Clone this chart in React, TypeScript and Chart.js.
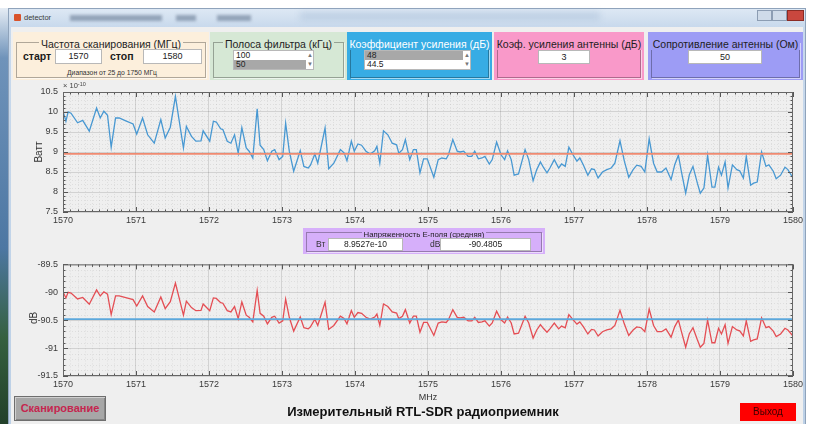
import React, { useEffect, useRef } from 'react';
import { Chart, registerables } from 'chart.js';

Chart.register(...registerables);

const FONT = '"Liberation Sans", Arial, Helvetica, sans-serif';

// Scan frequencies, MHz
const freqMHz = [
  1570.00, 1570.04, 1570.07, 1570.11, 1570.20, 1570.27, 1570.36, 1570.46, 1570.51, 1570.56,
  1570.61, 1570.66, 1570.72, 1570.77, 1570.86, 1570.96, 1571.01, 1571.09, 1571.16, 1571.25,
  1571.34, 1571.40, 1571.47, 1571.54, 1571.65, 1571.69, 1571.76, 1571.82, 1571.89, 1571.92,
  1572.01, 1572.06, 1572.10, 1572.16, 1572.19, 1572.25, 1572.30, 1572.35, 1572.40, 1572.45,
  1572.51, 1572.55, 1572.60, 1572.66, 1572.70, 1572.75, 1572.80, 1572.86, 1572.90, 1572.96,
  1573.01, 1573.05, 1573.10, 1573.16, 1573.25, 1573.30, 1573.36, 1573.39, 1573.45, 1573.49,
  1573.59, 1573.64, 1573.71, 1573.80, 1573.85, 1573.89, 1573.95, 1573.99, 1574.04, 1574.09,
  1574.15, 1574.21, 1574.27, 1574.30, 1574.34, 1574.39, 1574.45, 1574.51, 1574.57, 1574.60,
  1574.65, 1574.69, 1574.75, 1574.80, 1574.84, 1574.89, 1574.94, 1574.99, 1575.08, 1575.14,
  1575.19, 1575.25, 1575.28, 1575.34, 1575.40, 1575.44, 1575.49, 1575.55, 1575.60, 1575.64,
  1575.69, 1575.74, 1575.78, 1575.84, 1575.88, 1575.94, 1576.00, 1576.05, 1576.09, 1576.14,
  1576.18, 1576.24, 1576.33, 1576.38, 1576.44, 1576.49, 1576.54, 1576.58, 1576.63, 1576.67,
  1576.73, 1576.79, 1576.83, 1576.88, 1576.93, 1576.98, 1577.04, 1577.08, 1577.13, 1577.19,
  1577.24, 1577.28, 1577.33, 1577.39, 1577.45, 1577.51, 1577.56, 1577.63, 1577.69, 1577.75,
  1577.81, 1577.86, 1577.92, 1577.97, 1578.03, 1578.09, 1578.14, 1578.20, 1578.26, 1578.33,
  1578.38, 1578.43, 1578.47, 1578.53, 1578.58, 1578.63, 1578.69, 1578.73, 1578.78, 1578.83,
  1578.89, 1578.93, 1578.98, 1579.02, 1579.07, 1579.11, 1579.17, 1579.23, 1579.27, 1579.32,
  1579.36, 1579.42, 1579.46, 1579.51, 1579.57, 1579.63, 1579.67, 1579.73, 1579.77, 1579.83,
  1579.89, 1579.93, 1580.00,
];

// Power, in units of 1e-10 W
const powerE10 = [
  10.02, 9.77, 10.00, 9.97, 9.73, 9.79, 9.52, 10.10, 9.85, 10.02,
  9.92, 9.12, 9.85, 9.85, 9.78, 9.70, 9.45, 9.85, 9.43, 9.22,
  9.81, 9.35, 9.62, 10.39, 9.10, 9.64, 9.39, 9.27, 9.28, 9.53,
  9.27, 9.77, 9.75, 9.58, 9.56, 9.27, 9.22, 9.43, 8.97, 9.61,
  9.10, 9.02, 8.85, 10.08, 9.17, 9.06, 8.78, 9.02, 9.06, 8.81,
  8.89, 9.72, 9.02, 8.52, 9.03, 8.64, 8.60, 8.67, 8.95, 8.72,
  9.60, 8.58, 8.72, 9.06, 8.98, 8.78, 9.27, 9.02, 9.20, 9.17,
  9.02, 8.95, 9.03, 9.14, 8.72, 9.53, 9.43, 9.22, 9.18, 8.97,
  9.06, 9.31, 8.81, 9.06, 9.06, 8.48, 8.83, 8.83, 8.37, 8.81,
  8.85, 8.83, 8.93, 9.31, 9.02, 9.00, 9.02, 8.89, 8.89, 9.02,
  8.83, 8.85, 8.89, 8.70, 8.81, 9.25, 8.93, 8.81, 9.03, 8.81,
  8.42, 8.45, 9.06, 8.81, 8.28, 8.56, 8.75, 8.62, 8.48, 8.60,
  8.81, 8.60, 8.70, 8.64, 9.12, 8.95, 8.77, 8.85, 8.67, 8.42,
  8.58, 8.56, 8.35, 8.50, 8.56, 8.60, 8.72, 9.28, 8.77, 8.37,
  8.56, 8.67, 8.64, 8.50, 9.33, 8.72, 8.50, 8.50, 8.60, 8.31,
  8.68, 8.92, 8.52, 7.97, 8.43, 8.64, 8.22, 7.97, 8.10, 8.92,
  8.12, 8.12, 8.62, 8.42, 8.75, 8.10, 8.68, 8.56, 8.53, 8.35,
  8.89, 8.17, 8.22, 8.25, 9.00, 8.64, 8.68, 8.52, 8.33, 8.42,
  8.62, 8.56, 8.35,
];

// Same measurement expressed in dB (10·log10 of the power in W)
const powerDb = powerE10.map((v) => 10 * Math.log10(v * 1e-10));

const meanPowerE10 = 8.9527;
const meanPowerText = '8.9527e-10';
const meanDb = -90.4805;
const meanDbText = '-90.4805';

const xTickValues = [1570, 1571, 1572, 1573, 1574, 1575, 1576, 1577, 1578, 1579, 1580];
const powerTickValues = [7.5, 8, 8.5, 9, 9.5, 10, 10.5];
const dbTickValues = [-91.5, -91, -90.5, -90, -89.5];

function minorValues(min: number, max: number, step: number, major: number) {
  const out: number[] = [];
  const n = Math.round((max - min) / step);
  for (let i = 1; i < n; i++) {
    const v = min + i * step;
    const r = v / major;
    if (Math.abs(r - Math.round(r)) < 1e-6) continue;
    out.push(v);
  }
  return out;
}

const matlabAxesPlugin = {
  id: 'matlabAxes',
  beforeDatasetsDraw(chart: any, _args: any, o: any) {
    const { ctx, chartArea: a, scales } = chart;
    const x = scales.x;
    const y = scales.y;
    ctx.save();
    ctx.beginPath();
    ctx.rect(a.left, a.top, a.right - a.left, a.bottom - a.top);
    ctx.clip();
    ctx.strokeStyle = 'rgba(0,0,0,0.07)';
    ctx.lineWidth = 1;
    ctx.setLineDash([1, 2]);
    minorValues(x.min, x.max, o.xMinor, o.xMajor).forEach((v) => {
      const p = Math.round(x.getPixelForValue(v)) + 0.5;
      ctx.beginPath();
      ctx.moveTo(p, a.top);
      ctx.lineTo(p, a.bottom);
      ctx.stroke();
    });
    minorValues(y.min, y.max, o.yMinor, o.yMajor).forEach((v) => {
      const p = Math.round(y.getPixelForValue(v)) + 0.5;
      ctx.beginPath();
      ctx.moveTo(a.left, p);
      ctx.lineTo(a.right, p);
      ctx.stroke();
    });
    ctx.restore();
  },
  afterDatasetsDraw(chart: any, _args: any, o: any) {
    const { ctx, chartArea: a, scales } = chart;
    const x = scales.x;
    const y = scales.y;
    ctx.save();
    ctx.strokeStyle = '#555';
    ctx.lineWidth = 1;
    const tick = (x1: number, y1: number, x2: number, y2: number) => {
      ctx.beginPath();
      ctx.moveTo(x1, y1);
      ctx.lineTo(x2, y2);
      ctx.stroke();
    };
    xTickValues.forEach((v) => {
      const p = Math.round(x.getPixelForValue(v)) + 0.5;
      tick(p, a.bottom, p, a.bottom - 5);
      tick(p, a.top, p, a.top + 5);
    });
    minorValues(x.min, x.max, o.xMinor, o.xMajor).forEach((v) => {
      const p = Math.round(x.getPixelForValue(v)) + 0.5;
      tick(p, a.bottom, p, a.bottom - 2.5);
      tick(p, a.top, p, a.top + 2.5);
    });
    (o.yTicks as number[]).forEach((v) => {
      const p = Math.round(y.getPixelForValue(v)) + 0.5;
      tick(a.left, p, a.left + 5, p);
      tick(a.right, p, a.right - 5, p);
    });
    minorValues(y.min, y.max, o.yMinor, o.yMajor).forEach((v) => {
      const p = Math.round(y.getPixelForValue(v)) + 0.5;
      tick(a.left, p, a.left + 2.5, p);
      tick(a.right, p, a.right - 2.5, p);
    });
    ctx.strokeStyle = '#666';
    ctx.strokeRect(a.left + 0.5, a.top + 0.5, a.right - a.left - 1, a.bottom - a.top - 1);
    ctx.restore();
  },
};

function buildConfig(isTop: boolean): any {
  const values = isTop ? powerE10 : powerDb;
  const mean = isTop ? meanPowerE10 : meanDb;
  const yTicks = isTop ? powerTickValues : dbTickValues;
  const pts = freqMHz.map((f, i) => ({ x: f, y: values[i] }));
  const tickFont = { family: FONT, size: 9 };
  return {
    type: 'line',
    data: {
      datasets: [
        {
          data: pts,
          borderColor: isTop ? 'rgb(72,152,210)' : 'rgb(228,78,84)',
          borderWidth: 1.3,
          pointRadius: 0,
          tension: 0,
          fill: false,
          order: 2,
        },
        {
          data: [
            { x: xTickValues[0], y: mean },
            { x: xTickValues[xTickValues.length - 1], y: mean },
          ],
          borderColor: isTop ? 'rgb(240,138,112)' : 'rgb(92,168,220)',
          borderWidth: 1.8,
          pointRadius: 0,
          fill: false,
          order: 1,
        },
      ],
    },
    options: {
      animation: false,
      responsive: false,
      maintainAspectRatio: false,
      events: [],
      layout: { padding: { top: isTop ? 12 : 6, right: 12, left: 0, bottom: 0 } },
      plugins: {
        legend: { display: false },
        tooltip: { enabled: false },
        matlabAxes: { xMinor: 0.1, xMajor: 1, yMinor: 0.1, yMajor: 0.5, yTicks },
      },
      scales: {
        x: {
          type: 'linear',
          min: xTickValues[0],
          max: xTickValues[xTickValues.length - 1],
          afterBuildTicks: (s: any) => {
            s.ticks = xTickValues.map((v) => ({ value: v }));
          },
          afterFit: (s: any) => {
            s.height = 18;
          },
          ticks: {
            callback: (v: any) => String(v),
            padding: 3,
            maxRotation: 0,
            autoSkip: false,
            color: '#3a3a3a',
            font: tickFont,
          },
          grid: { color: 'rgba(0,0,0,0.12)', drawTicks: false, lineWidth: 1 },
          border: { display: false },
        },
        y: {
          type: 'linear',
          min: yTicks[0],
          max: yTicks[yTicks.length - 1],
          afterBuildTicks: (s: any) => {
            s.ticks = yTicks.map((v) => ({ value: v }));
          },
          afterFit: (s: any) => {
            s.width = 53;
          },
          ticks: {
            callback: (v: any) => String(v),
            padding: 5,
            autoSkip: false,
            color: '#3a3a3a',
            font: tickFont,
          },
          grid: { color: 'rgba(0,0,0,0.12)', drawTicks: false, lineWidth: 1 },
          border: { display: false },
        },
      },
    },
    plugins: [matlabAxesPlugin],
  };
}

const abs = (left: number, top: number, width?: number, height?: number): React.CSSProperties => ({
  position: 'absolute',
  left,
  top,
  width,
  height,
});

function Txt(p: {
  x: number;
  y: number;
  text: string;
  size: number;
  bold?: boolean;
  color?: string;
  center?: boolean;
}) {
  const lh = Math.round(p.size * 1.3);
  return (
    <div
      style={{
        position: 'absolute',
        left: p.center ? p.x - 200 : p.x,
        width: p.center ? 400 : undefined,
        top: p.y - lh / 2,
        lineHeight: `${lh}px`,
        fontSize: p.size,
        fontWeight: p.bold ? 'bold' : 'normal',
        color: p.color ?? '#1a1a1a',
        textAlign: p.center ? 'center' : 'left',
        whiteSpace: 'nowrap',
      }}
    >
      {p.text}
    </div>
  );
}

function EditBox(p: { x: number; y: number; w: number; h: number; text: string; size?: number }) {
  return (
    <div
      style={{
        ...abs(p.x, p.y, p.w, p.h),
        background: '#fff',
        border: '1px solid #b8b8b8',
        boxSizing: 'border-box',
        textAlign: 'center',
        lineHeight: `${p.h - 2}px`,
        fontSize: p.size ?? 9,
        color: '#222',
      }}
    >
      {p.text}
    </div>
  );
}

function ListBox(p: { x: number; y: number; w: number; items: string[]; selected: number }) {
  const rowH = 9;
  return (
    <div
      style={{
        ...abs(p.x, p.y, p.w, rowH * p.items.length + 2),
        background: '#fff',
        border: '1px solid #b8b8b8',
        boxSizing: 'border-box',
      }}
    >
      {p.items.map((it, i) => (
        <div
          key={i}
          style={{
            ...abs(0, i * rowH, p.w - 11, rowH),
            background: i === p.selected ? '#a8a8a8' : '#fff',
            fontSize: 8.5,
            lineHeight: `${rowH}px`,
            paddingLeft: 2,
            color: '#222',
          }}
        >
          {it}
        </div>
      ))}
      <div style={{ ...abs(p.w - 9, 0, 8, rowH), fontSize: 6, lineHeight: `${rowH}px`, color: '#777', textAlign: 'center' }}>▲</div>
      <div style={{ ...abs(p.w - 9, rowH, 8, rowH), fontSize: 6, lineHeight: `${rowH}px`, color: '#777', textAlign: 'center' }}>▼</div>
    </div>
  );
}

function Panel(p: {
  x: number;
  y: number;
  w: number;
  h: number;
  bg: string;
  title: string;
  titleColor?: string;
  titleSize?: number;
  titleY?: number;
  children?: React.ReactNode;
}) {
  const ty = p.titleY ?? 10;
  const size = p.titleSize ?? 10.5;
  const lh = Math.round(size * 1.25);
  return (
    <div style={{ ...abs(p.x, p.y, p.w, p.h), background: p.bg }}>
      <div
        style={{
          position: 'absolute',
          left: 3,
          right: 3,
          top: ty,
          bottom: 2,
          border: '1px solid rgba(0,0,0,0.3)',
          boxShadow: '1px 1px 0 rgba(255,255,255,0.55)',
        }}
      />
      <div
        style={{
          position: 'absolute',
          left: 0,
          right: 0,
          top: ty - lh / 2,
          textAlign: 'center',
          lineHeight: `${lh}px`,
          whiteSpace: 'nowrap',
        }}
      >
        <span style={{ background: p.bg, padding: '0 2px', fontSize: size, color: p.titleColor ?? '#1e1e1e' }}>
          {p.title}
        </span>
      </div>
      {p.children}
    </div>
  );
}

export default function App() {
  const topRef = useRef<HTMLCanvasElement>(null);
  const botRef = useRef<HTMLCanvasElement>(null);

  useEffect(() => {
    const c1 = new Chart(topRef.current as HTMLCanvasElement, buildConfig(true));
    const c2 = new Chart(botRef.current as HTMLCanvasElement, buildConfig(false));
    return () => {
      c1.destroy();
      c2.destroy();
    };
  }, []);

  return (
    <div
      style={{
        position: 'fixed',
        left: 0,
        top: 0,
        width: 813,
        height: 424,
        overflow: 'hidden',
        background: '#ffffff',
        fontFamily: FONT,
      }}
    >
      {/* desktop strip at the left */}
      <div
        style={{
          ...abs(0, 8, 9, 416),
          background: 'linear-gradient(180deg,#e6edf5 0px,#6f93ba 50px,#4d77a3 240px,#35603f 330px,#22402a 416px)',
        }}
      />
      {/* window frame */}
      <div
        style={{
          ...abs(8, 8, 798, 416),
          background: 'linear-gradient(180deg,#dde8f4 0px,#c8d9ec 18px,#bcd0e6 100%)',
          borderTop: '1px solid #8fa3bb',
          borderLeft: '1px solid #8fa3bb',
          borderRight: '1px solid #8fa3bb',
          boxSizing: 'border-box',
        }}
      />
      {/* title bar */}
      <div style={{ ...abs(14, 14, 7, 7), background: '#d9532b', borderRadius: 1 }} />
      <Txt x={24} y={18} text="detector" size={7.5} color="#3a3a3a" />
      <div style={{ ...abs(70, 15, 92, 6), background: 'rgba(70,90,120,0.45)', filter: 'blur(1.6px)' }} />
      <div style={{ ...abs(176, 15, 20, 6), background: 'rgba(70,90,120,0.45)', filter: 'blur(1.6px)' }} />
      <div style={{ ...abs(217, 15, 34, 6), background: 'rgba(70,90,120,0.45)', filter: 'blur(1.6px)' }} />
      <div style={{ ...abs(300, 12, 300, 8), background: 'rgba(150,175,205,0.35)', filter: 'blur(3px)' }} />
      <div style={{ ...abs(757, 10, 15, 11), background: '#cfdbe9', border: '1px solid #8c9db3', boxSizing: 'border-box' }} />
      <div style={{ ...abs(772, 10, 15, 11), background: '#cfdbe9', border: '1px solid #8c9db3', boxSizing: 'border-box' }} />
      <div style={{ ...abs(787, 10, 17, 11), background: '#c9473e', border: '1px solid #8b2b24', boxSizing: 'border-box' }} />

      {/* client area */}
      <div style={{ ...abs(11, 27, 792, 397), background: '#efefef' }} />

      {/* top control panels */}
      <Panel x={13} y={32} w={196} h={48} bg="#fcefdc" title="Частота сканирования (МГц)">
        <Txt x={10} y={24} text="старт" size={10.5} bold />
        <EditBox x={42} y={17} w={47} h={15} text="1570" />
        <Txt x={97} y={24} text="стоп" size={10.5} bold />
        <EditBox x={130} y={17} w={59} h={15} text="1580" />
        <Txt x={99} y={40} text="Диапазон от 25 до 1750 МГц" size={6.8} center color="#333" />
      </Panel>
      <Panel x={210} y={32} w={137} h={48} bg="#d6e8d5" title="Полоса фильтра (кГц)">
        <ListBox x={23} y={18} w={81} items={['100', '50']} selected={1} />
      </Panel>
      <Panel x={347} y={32} w={145} h={48} bg="#37ace4" title="Коэффициент усиления (дБ)" titleColor="#ffffff">
        <ListBox x={17} y={18} w={107} items={['48', '44.5']} selected={0} />
      </Panel>
      <Panel x={494} y={32} w={150} h={48} bg="#f999c9" title="Коэф. усиления антенны (дБ)">
        <EditBox x={44} y={18} w={52} h={14} text="3" />
      </Panel>
      <Panel x={648} y={32} w={155} h={48} bg="#9d9cf5" title="Сопротивление антенны (Ом)">
        <EditBox x={40} y={18} w={74} h={14} text="50" />
      </Panel>

      {/* top axes */}
      <canvas ref={topRef} width={796} height={150} style={{ ...abs(10, 80, 796, 150) }} />
      <div style={{ ...abs(63, 81), fontSize: 7.5, color: '#444', lineHeight: '9px', whiteSpace: 'nowrap' }}>
        × 10<sup style={{ fontSize: 5.5, verticalAlign: 'top', lineHeight: '6px' }}>-10</sup>
      </div>
      <div
        style={{
          ...abs(19, 145, 40, 14),
          transform: 'rotate(-90deg)',
          textAlign: 'center',
          fontSize: 10,
          lineHeight: '14px',
          color: '#333',
        }}
      >
        Ватт
      </div>

      {/* E-field panel */}
      <Panel x={303} y={228} w={242} h={26} bg="#d6affa" title="Напряженность E-поля (средняя)" titleSize={7.8} titleY={4}>
        <Txt x={13} y={16} text="Вт" size={8.5} color="#333" />
        <EditBox x={25} y={10} w={75} h={13} text={meanPowerText} size={8.5} />
        <Txt x={127} y={16} text="dB" size={8.5} color="#333" />
        <EditBox x={137} y={10} w={91} h={13} text={meanDbText} size={8.5} />
      </Panel>

      {/* bottom axes */}
      <canvas ref={botRef} width={796} height={140} style={{ ...abs(10, 254, 796, 140) }} />
      <div
        style={{
          ...abs(14, 311, 40, 14),
          transform: 'rotate(-90deg)',
          textAlign: 'center',
          fontSize: 10,
          lineHeight: '14px',
          color: '#333',
        }}
      >
        dB
      </div>
      <Txt x={428} y={397} text="MHz" size={9} center color="#333" />

      {/* bottom controls */}
      <div
        style={{
          ...abs(14, 396, 92, 25),
          background: '#a7a7a7',
          border: '1px solid #6e6e6e',
          boxShadow: 'inset 1px 1px 0 #d0d0d0, inset -1px -1px 0 #858585',
          boxSizing: 'border-box',
          textAlign: 'center',
          lineHeight: '23px',
          fontSize: 11,
          fontWeight: 'bold',
          color: '#c5264f',
        }}
      >
        Сканирование
      </div>
      <Txt x={423} y={411} text="Измерительный RTL-SDR радиоприемник" size={13} bold center color="#111" />
      <div
        style={{
          ...abs(740, 403, 56, 18),
          background: '#ff0000',
          textAlign: 'center',
          lineHeight: '18px',
          fontSize: 10,
          color: '#3d0000',
        }}
      >
        Выход
      </div>
    </div>
  );
}
